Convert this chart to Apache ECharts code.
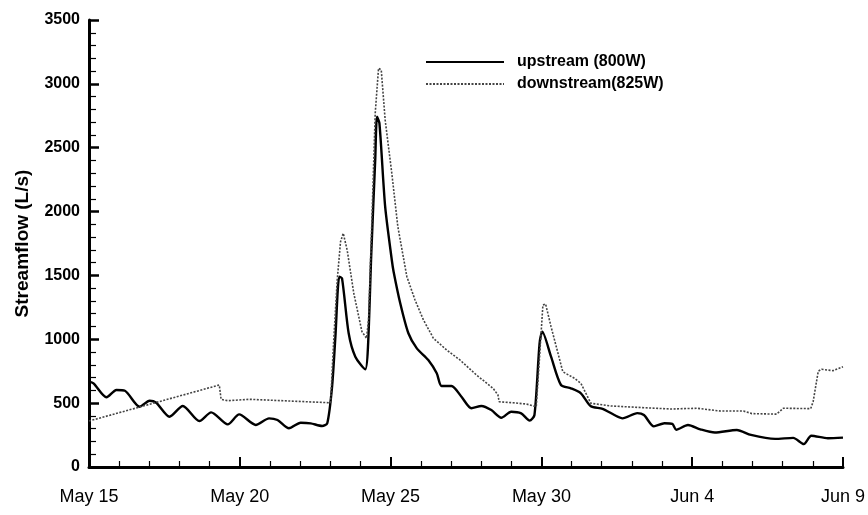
<!DOCTYPE html>
<html>
<head>
<meta charset="utf-8">
<script src="https://cdn.jsdelivr.net/npm/echarts@6/dist/echarts.min.js"></script>
<style>
  html, body { margin: 0; padding: 0; background: #fff; }
  #chart { width: 868px; height: 515px; }
</style>
</head>
<body>
<div id="chart"></div>
<script>
// x = days after May 15
const xTickLabels = ["May 15", "May 20", "May 25", "May 30", "Jun 4", "Jun 9"];

// upstream (800W)
const upDays = [0.00, 0.15, 0.58, 0.91, 1.19, 1.68, 2.01, 2.23, 2.67, 3.11, 3.66, 4.05, 4.60, 4.98,
  5.53, 5.97, 6.25, 6.63, 7.02, 7.35, 7.73, 7.90, 8.06, 8.17, 8.30, 8.39, 8.61, 8.83, 9.16, 9.25,
  9.36, 9.49, 9.55, 9.63, 9.82, 10.04, 10.10, 10.32, 10.59, 10.87, 11.25, 11.53, 11.69, 12.02,
  12.35, 12.68, 13.01, 13.34, 13.67, 14.00, 14.33, 14.61, 14.77, 14.94, 15.03, 15.32, 15.65,
  15.98, 16.31, 16.64, 17.03, 17.42, 17.69, 18.18, 18.40, 18.73, 19.08, 19.34, 19.47, 19.86,
  20.27, 20.75, 21.48, 21.95, 22.75, 23.35, 23.70, 23.95, 24.50, 25.00];
const upFlow = [668, 655, 546, 603, 597, 472, 519, 503, 394, 478, 360, 428, 334, 412,
  329, 381, 368, 303, 347, 342, 321, 342, 629, 1020, 1490, 1477, 1047, 864, 765, 942,
  1673, 2404, 2743, 2691, 2038, 1621, 1529, 1282, 1047, 929, 838, 734, 634, 634,
  550, 460, 478, 446, 386, 433, 420, 363, 407, 969, 1060, 864, 642,
  616, 577, 475, 456, 407, 381, 422, 407, 318, 342, 337, 292, 329,
  295, 270, 290, 251, 220, 228, 180, 245, 225, 230];

// downstream (825W)
const downDays = [0.00, 4.32, 4.38, 4.60, 5.31, 6.63, 8.01, 8.12, 8.23, 8.34, 8.43, 8.56, 8.78,
  9.05, 9.20, 9.27, 9.38, 9.49, 9.60, 9.69, 9.82, 10.04, 10.24, 10.54, 10.81, 11.09, 11.42,
  11.86, 12.30, 12.85, 13.40, 13.56, 13.60, 14.06, 14.50, 14.83, 14.94, 15.05, 15.14, 15.32,
  15.71, 16.10, 16.31, 16.64, 17.30, 18.18, 19.28, 20.17, 20.93, 21.70, 21.98, 22.80, 23.02,
  23.93, 24.01, 24.18, 24.29, 24.67, 25.00];
const downFlow = [360, 642, 530, 519, 530, 517, 503, 1020, 1464, 1764, 1830, 1699, 1360,
  1060, 1008, 1151, 1934, 2769, 3122, 3109, 2717, 2300, 1882, 1490, 1308, 1151, 1008,
  916, 838, 720, 616, 564, 511, 503, 493, 472, 864, 1268, 1276, 1099,
  746, 694, 655, 499, 478, 467, 454, 460, 438, 438, 418, 414, 460,
  457, 511, 750, 765, 754, 785];

const zip = (xs, ys) => xs.map((x, i) => [x, ys[i]]);
const font = "'Liberation Sans', Arial, Helvetica, sans-serif";

const chart = echarts.init(document.getElementById("chart"));
chart.setOption({
  animation: false,
  backgroundColor: "#fff",
  textStyle: { fontFamily: font, color: "#000" },
  grid: { left: 89, right: 22, top: 20, bottom: 48 },
  legend: {
    orient: "vertical",
    left: 420,
    top: 49,
    itemWidth: 78,
    itemHeight: 14,
    itemGap: 6,
    itemStyle: { opacity: 0 },
    textStyle: { fontFamily: font, fontSize: 16, fontWeight: "bold", color: "#000", padding: [0, 0, 0, 8] },
    data: ["upstream (800W)", "downstream(825W)"]
  },
  xAxis: {
    type: "value",
    min: 0,
    max: 25,
    interval: 5,
    axisLine: { lineStyle: { color: "#000", width: 3 } },
    axisTick: { inside: true, length: 10, lineStyle: { color: "#000", width: 2 } },
    minorTick: { show: true, splitNumber: 5, length: 6, lineStyle: { color: "#000", width: 1.2 } },
    splitLine: { show: false },
    axisLabel: {
      margin: 21,
      fontSize: 18,
      color: "#000",
      fontFamily: font,
      formatter: (v) => xTickLabels[Math.round(v / 5)]
    }
  },
  yAxis: {
    type: "value",
    min: 0,
    max: 3500,
    interval: 500,
    name: "Streamflow (L/s)",
    nameLocation: "middle",
    nameGap: 57,
    nameTextStyle: { fontSize: 19, fontWeight: "bold", color: "#000", fontFamily: font },
    axisLine: { show: true, lineStyle: { color: "#000", width: 3 } },
    axisTick: { show: true, inside: true, length: 10, lineStyle: { color: "#000", width: 2.5 } },
    minorTick: { show: true, splitNumber: 5, length: 7, lineStyle: { color: "#000", width: 1.2 } },
    splitLine: { show: false },
    axisLabel: {
      margin: 9, fontSize: 16, fontWeight: "bold", color: "#000", fontFamily: font,
      formatter: (v) => String(v)
    }
  },
  series: [
    {
      name: "upstream (800W)",
      type: "line",
      symbol: "none",
      smooth: 0.25,
      data: zip(upDays, upFlow),
      itemStyle: { color: "#000" },
      lineStyle: { color: "#000", width: 2.4 }
    },
    {
      name: "downstream(825W)",
      type: "line",
      symbol: "none",
      data: zip(downDays, downFlow),
      itemStyle: { color: "#444" },
      lineStyle: { color: "#444", width: 1.6, type: [2, 1.5] }
    }
  ]
});
</script>
</body>
</html>
